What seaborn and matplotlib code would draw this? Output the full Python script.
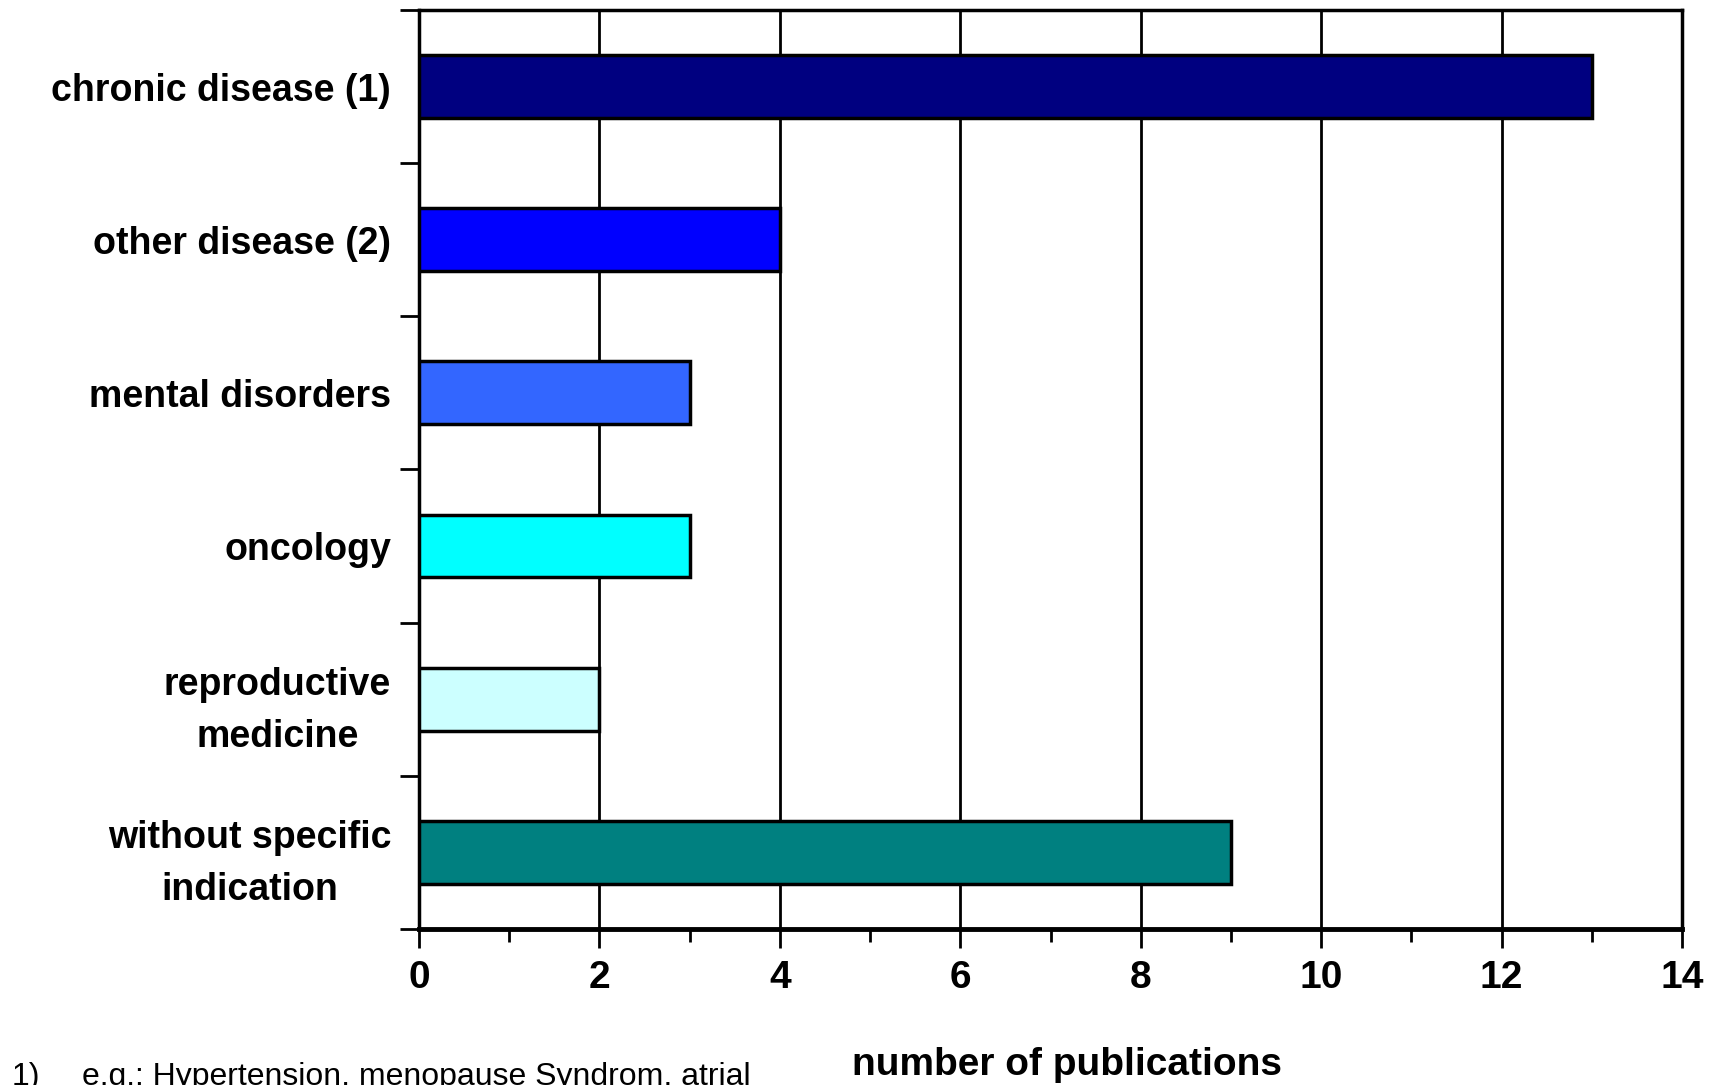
import matplotlib
matplotlib.use("Agg")
import matplotlib.pyplot as plt
from matplotlib.ticker import MultipleLocator, FixedLocator
import pandas as pd
import seaborn as sns

categories = [
    "chronic disease (1)",
    "other disease (2)",
    "mental disorders",
    "oncology",
    "reproductive\nmedicine",
    "without specific\nindication",
]
publications = [13, 4, 3, 3, 2, 9]
bar_colors = ["#000080", "#0000FF", "#3366FF", "#00FFFF", "#CCFFFF", "#008080"]
x_ticks = [0, 2, 4, 6, 8, 10, 12, 14]

sns.set_style("white")
plt.rcParams["font.family"] = ["Liberation Sans", "DejaVu Sans"]
plt.rcParams["text.color"] = "black"
plt.rcParams["axes.labelcolor"] = "black"
plt.rcParams["xtick.color"] = "black"
plt.rcParams["ytick.color"] = "black"

df = pd.DataFrame({"category": categories, "n": publications})

fig = plt.figure(figsize=(17.15, 10.85), dpi=100)
ax = fig.add_axes([0.2443, 0.1438, 0.7365, 0.8470])

sns.barplot(data=df, x="n", y="category", hue="category", palette=bar_colors,
            legend=False, orient="h", width=0.41, edgecolor="black",
            linewidth=2.5, saturation=1, ax=ax, zorder=3)

ax.set_xlim(0, 14)
ax.set_ylim(5.5, -0.5)
ax.set_xticks(x_ticks)
ax.xaxis.set_minor_locator(MultipleLocator(1))
ax.yaxis.set_minor_locator(FixedLocator([i - 0.5 for i in range(len(categories) + 1)]))

ax.grid(axis="x", color="black", linewidth=2, zorder=0)
ax.set_axisbelow(True)

for side in ["top", "right", "left"]:
    ax.spines[side].set_visible(True)
    ax.spines[side].set_color("black")
    ax.spines[side].set_linewidth(2.5)
ax.spines["bottom"].set_visible(True)
ax.spines["bottom"].set_color("black")
ax.spines["bottom"].set_linewidth(3.5)

ax.tick_params(axis="x", which="major", direction="out", length=14, width=2,
               color="black", labelcolor="black", labelsize=28, pad=8, bottom=True)
ax.tick_params(axis="x", which="minor", direction="out", length=9, width=2,
               color="black", bottom=True)
ax.tick_params(axis="y", which="major", length=0, labelsize=27,
               labelcolor="black", pad=20)
ax.tick_params(axis="y", which="minor", direction="out", length=14, width=2,
               color="black", left=True)

for lab in ax.get_xticklabels():
    lab.set_fontweight("bold")
for lab in ax.get_yticklabels():
    lab.set_fontweight("bold")
    lab.set_multialignment("center")
    lab.set_linespacing(1.55)

ax.set_ylabel("")
ax.set_xlabel("number of publications", fontsize=28, fontweight="bold",
              color="black")
ax.xaxis.set_label_coords(0.513, -0.128)

fig.text(0.007, -0.006, "1)", fontsize=23, ha="left", va="bottom")
fig.text(0.048, -0.006, "e.g.: Hypertension, menopause Syndrom, atrial",
         fontsize=23, ha="left", va="bottom")

fig.savefig("out.png", dpi=100)
plt.close(fig)
